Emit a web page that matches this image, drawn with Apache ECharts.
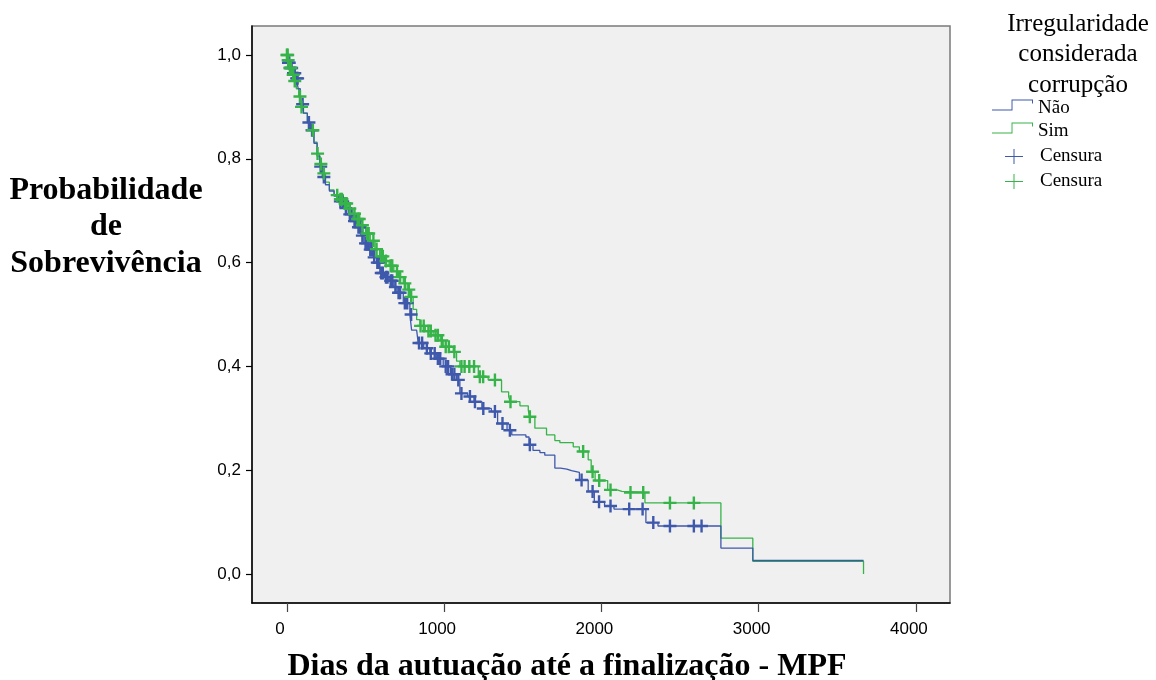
<!DOCTYPE html>
<html>
<head>
<meta charset="utf-8">
<script src="https://cdn.jsdelivr.net/npm/echarts@6/dist/echarts.min.js"></script>
<style>html,body{margin:0;padding:0;background:#fff}#c{width:1156px;height:680px}</style>
</head>
<body>
<div id="c"></div>
<script>
// ---- data (days, survival probability) ----
const xTicks = [0, 1000, 2000, 3000, 4000];
const yTicks = [0, 0.2, 0.4, 0.6, 0.8, 1.0];
const groupNames = ['Não', 'Sim'];
const censorLabel = 'Censura';

const naoCurve = [
[0,1.0],[10,0.985],[20,0.975],[40,0.965],[60,0.955],[72,0.935],[85,0.905],[105,0.888],[130,0.87],[150,0.855],[172,0.83],[192,0.805],[210,0.785],[225,0.765],[245,0.75],[270,0.738],[300,0.728],[330,0.718],[360,0.705],[390,0.693],[420,0.68],[445,0.668],[470,0.652],[490,0.637],[520,0.625],[550,0.61],[570,0.6],[591,0.58],[620,0.572],[650,0.565],[680,0.553],[700,0.542],[740,0.522],[782,0.5],[793,0.47],[825,0.467],[835,0.445],[870,0.435],[909,0.425],[950,0.415],[994,0.4],[1040,0.385],[1079,0.374],[1100,0.348],[1150,0.342],[1190,0.332],[1240,0.319],[1300,0.313],[1340,0.29],[1400,0.277],[1430,0.268],[1520,0.264],[1540,0.249],[1565,0.238],[1609,0.234],[1640,0.229],[1704,0.204],[1740,0.202],[1780,0.199],[1810,0.196],[1860,0.181],[1916,0.159],[1955,0.139],[2020,0.131],[2080,0.125],[2283,0.099],[2360,0.0925],[2760,0.05],[2963,0.026],[3667,0.026]
];

const simCurve = [
[0,1.0],[8,0.99],[18,0.975],[30,0.962],[45,0.95],[60,0.935],[75,0.92],[88,0.9],[105,0.888],[130,0.87],[150,0.855],[172,0.832],[192,0.81],[208,0.79],[222,0.772],[245,0.755],[270,0.74],[300,0.73],[330,0.722],[360,0.714],[390,0.704],[420,0.694],[445,0.684],[470,0.672],[500,0.656],[530,0.642],[560,0.626],[590,0.612],[620,0.603],[650,0.594],[680,0.583],[710,0.572],[740,0.56],[765,0.548],[785,0.534],[803,0.51],[825,0.49],[846,0.478],[880,0.468],[930,0.46],[975,0.45],[994,0.438],[1058,0.428],[1079,0.41],[1100,0.4],[1217,0.38],[1280,0.374],[1365,0.351],[1410,0.342],[1420,0.332],[1482,0.324],[1535,0.316],[1542,0.303],[1577,0.281],[1651,0.268],[1704,0.257],[1736,0.253],[1821,0.245],[1860,0.236],[1916,0.22],[1935,0.197],[1960,0.18],[2040,0.162],[2100,0.159],[2130,0.157],[2277,0.137],[2760,0.069],[2963,0.0245],[3667,0.0245],[3667,0]
];

const naoCensor = [
[10,0.985],[15,0.985],[22,0.975],[30,0.975],[42,0.965],[50,0.965],[62,0.955],[68,0.955],[100,0.905],[140,0.87],[160,0.855],[215,0.785],[235,0.765],[340,0.718],[355,0.718],[375,0.705],[400,0.693],[410,0.693],[430,0.68],[440,0.68],[455,0.668],[465,0.668],[480,0.652],[500,0.637],[510,0.637],[530,0.625],[540,0.625],[555,0.61],[575,0.6],[585,0.6],[600,0.58],[610,0.58],[630,0.572],[640,0.572],[660,0.565],[670,0.565],[690,0.553],[710,0.542],[720,0.542],[750,0.522],[765,0.522],[790,0.5],[840,0.445],[860,0.445],[890,0.435],[915,0.425],[940,0.425],[960,0.415],[975,0.415],[1010,0.4],[1025,0.4],[1050,0.385],[1065,0.385],[1090,0.374],[1110,0.348],[1164,0.342],[1196,0.332],[1249,0.319],[1323,0.313],[1371,0.29],[1418,0.277],[1545,0.249],[1874,0.181],[1944,0.159],[1985,0.139],[2058,0.131],[2177,0.125],[2262,0.125],[2330,0.099],[2436,0.0925],[2588,0.0925],[2637,0.0925]
];

const simCensor = [
[0,1.0],[5,1.0],[8,0.99],[19,0.975],[25,0.975],[40,0.962],[50,0.95],[83,0.92],[93,0.9],[165,0.855],[195,0.81],[216,0.79],[235,0.772],[320,0.73],[340,0.722],[350,0.722],[370,0.714],[380,0.714],[400,0.704],[430,0.694],[450,0.684],[460,0.684],[480,0.672],[510,0.656],[520,0.656],[550,0.642],[570,0.626],[600,0.612],[610,0.612],[630,0.603],[660,0.594],[670,0.594],[700,0.583],[720,0.572],[750,0.56],[775,0.548],[790,0.534],[850,0.478],[870,0.478],[900,0.468],[915,0.468],[945,0.46],[960,0.46],[985,0.45],[1010,0.438],[1030,0.438],[1065,0.428],[1110,0.4],[1130,0.4],[1160,0.4],[1190,0.4],[1227,0.38],[1248,0.38],[1323,0.374],[1422,0.332],[1545,0.303],[1884,0.236],[1944,0.197],[1986,0.18],[2058,0.162],[2185,0.157],[2266,0.157],[2436,0.137],[2588,0.137]
];

// ---- styling ----
const BLUE = '#3E58AC';
const GREEN = '#36B449';
const SERIF = '"Liberation Serif", "Times New Roman", serif';
const SANS = '"Liberation Sans", Arial, sans-serif';
const CROSS = 'path://M-1.2,-6.5H1.2V-1.2H6.5V1.2H1.2V6.5H-1.2V1.2H-6.5V-1.2H-1.2Z';
const CROSS_THIN = 'path://M8.5,0H9.5V15H8.5ZM0,7H18V8H0Z';
// step icon sits in the upper part of an 18-unit-high box (tiny dot at bottom sets the box)
const STEP_ICON = 'path://M0,10H20V0H42V4H41V1H21V11H0ZM0,17.98H0.02V18H0Z';

const chart = echarts.init(document.getElementById('c'), null, {renderer: 'canvas'});
chart.setOption({
  animation: false,
  backgroundColor: '#ffffff',
  grid: {left: 252, right: 206, top: 26, bottom: 77, show: true,
         backgroundColor: '#F0F0F0', borderColor: '#7a7a7a', borderWidth: 1.5},
  xAxis: {
    type: 'value', min: -222, max: 4217,
    axisLine: {show: true, onZero: false, lineStyle: {color: '#000', width: 1.5}},
    axisTick: {show: true, customValues: xTicks, length: 9, lineStyle: {color: '#444', width: 1.2}},
    axisLabel: {customValues: xTicks, margin: 18, padding: [0, 14, 0, 0],
                fontFamily: SANS, fontSize: 17, color: '#000',
                formatter: v => String(Math.round(v))},
    splitLine: {show: false}
  },
  yAxis: {
    type: 'value', min: -0.0559, max: 1.0559,
    axisLine: {show: true, onZero: false, lineStyle: {color: '#000', width: 1.5}},
    axisTick: {show: true, customValues: yTicks, length: 6, lineStyle: {color: '#000', width: 1.2}},
    axisLabel: {customValues: yTicks, margin: 11, fontFamily: SANS, fontSize: 17, color: '#000',
                formatter: v => v.toFixed(1).replace('.', ',')},
    splitLine: {show: false}
  },
  legend: [
    {
      orient: 'vertical', left: 992, top: 99, padding: 0, itemWidth: 41, itemHeight: 18, itemGap: 4,
      selectedMode: false, symbolKeepAspect: false,
      itemStyle: {borderWidth: 0},
      textStyle: {fontFamily: SERIF, fontSize: 19, color: '#000'},
      data: [{name: groupNames[0], icon: STEP_ICON}, {name: groupNames[1], icon: STEP_ICON}]
    },
    {
      orient: 'vertical', left: 1005, top: 147, padding: 0, itemWidth: 18, itemHeight: 15, itemGap: 6,
      selectedMode: false, symbolKeepAspect: false,
      itemStyle: {borderWidth: 0},
      formatter: () => censorLabel,
      textStyle: {fontFamily: SERIF, fontSize: 19, color: '#000', padding: [0, 0, 0, 12]},
      data: [{name: 'censorNao', icon: CROSS_THIN}, {name: 'censorSim', icon: CROSS_THIN}]
    }
  ],
  graphic: [
    {type: 'text', x: 1078, y: 9, silent: true,
     style: {text: 'Irregularidade\nconsiderada\ncorrupção', align: 'center', verticalAlign: 'top',
             fontFamily: SERIF, fontSize: 25, lineHeight: 30.5, fill: '#000'}},
    {type: 'text', x: 106, y: 172, silent: true,
     style: {text: 'Probabilidade\nde\nSobrevivência', align: 'center', verticalAlign: 'top',
             fontFamily: SERIF, fontSize: 32, fontWeight: 'bold', lineHeight: 36.5, fill: '#000'}},
    {type: 'text', x: 567, y: 667, silent: true,
     style: {text: 'Dias da autuação até a finalização - MPF', align: 'center', verticalAlign: 'middle',
             fontFamily: SERIF, fontSize: 32, fontWeight: 'bold', fill: '#000'}}
  ],
  series: [
    {name: groupNames[1], type: 'line', step: 'end', data: simCurve, showSymbol: false, symbol: 'none',
     color: GREEN, lineStyle: {color: GREEN, width: 1.3}, z: 2},
    {name: groupNames[0], type: 'line', step: 'end', data: naoCurve, showSymbol: false, symbol: 'none',
     color: BLUE, lineStyle: {color: BLUE, width: 1.3}, z: 3},
    {name: 'censorNao', type: 'scatter', data: naoCensor, symbol: CROSS, symbolSize: 13,
     color: BLUE, itemStyle: {color: BLUE, opacity: 1}, z: 4},
    {name: 'censorSim', type: 'scatter', data: simCensor, symbol: CROSS, symbolSize: 13,
     color: GREEN, itemStyle: {color: GREEN, opacity: 1}, z: 5}
  ]
});
</script>
</body>
</html>
